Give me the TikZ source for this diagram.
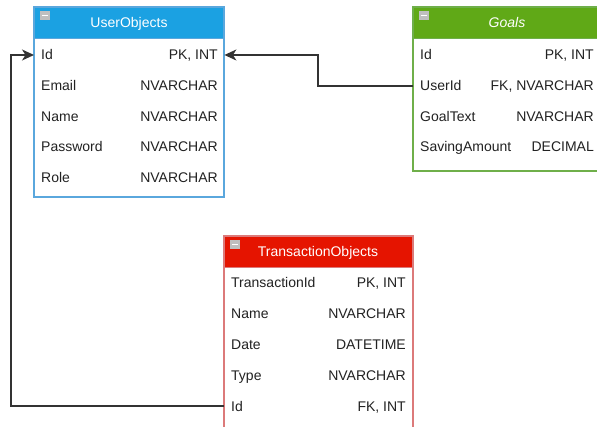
\documentclass[tikz,border=0pt]{standalone}
\usepackage{fontspec}
\setmainfont{Liberation Sans}
\usetikzlibrary{arrows.meta,calc}
\definecolor{ublue}{HTML}{1BA1E2}
\definecolor{ubord}{HTML}{5AA7DD}
\definecolor{ggreen}{HTML}{60A917}
\definecolor{gbord}{HTML}{6FAF4A}
\definecolor{tred}{HTML}{E51400}
\definecolor{tbord}{HTML}{DC7A7A}
\definecolor{txt}{HTML}{222222}
\definecolor{lnc}{HTML}{333333}
\tikzset{
  tbl/.style={draw=#1, line width=1.2pt},
  hdr/.style={fill=#1},
  lab/.style={font=\fontsize{14}{16}\selectfont, text=txt, inner sep=0pt, text height=10pt, text depth=0pt, anchor=west},
  typ/.style={font=\fontsize{14}{16}\selectfont, text=txt, inner sep=0pt, text height=10pt, text depth=0pt, anchor=east},
  ttl/.style={font=\fontsize{14}{16}\selectfont, text=white, inner sep=0pt, text height=10pt, text depth=0pt},
  conn/.style={draw=lnc, line width=1.3pt},
  arr/.style={-{Stealth[length=12pt,width=11pt,inset=3.5pt]}},
}
\newcommand{\minicon}[2]{%
  \fill[gray!50] (#1,#2) rectangle ++(10,9);
  \draw[white, line width=1.5pt] ($(#1,#2)+(2,4.5)$) -- ++(6,0);
}
\begin{document}
\begin{tikzpicture}[x=1pt,y=-1pt]
\useasboundingbox (0,0) rectangle (597,427);
\fill[white] (0,0) rectangle (597,427);
\begin{scope}
\clip (0,0) rectangle (597,427);
% ---------- UserObjects ----------
\fill[white] (34,7) rectangle (224,197);
\fill[hdr=ublue] (34,7) rectangle (224,39);
\draw[tbl=ubord] (34,7) rectangle (224,197);
\draw[ubord, line width=1pt] (34,39) -- (224,39);
\node[draw=none, minimum width=190pt, minimum height=190pt, inner sep=0pt, anchor=north west] (uo) at (34,7) {};
\minicon{40}{11}
\node[ttl] (uot) at (129,23) {UserObjects};
\node[lab] (uid) at (41,55) {Id};
\node[typ] (upk) at (218,55) {PK, INT};
\node[lab] (uem) at (41,86) {Email};
\node[typ] at (218,86) {NVARCHAR};
\node[lab] (unm) at (41,117) {Name};
\node[typ] at (218,117) {NVARCHAR};
\node[lab] (upw) at (41,147) {Password};
\node[typ] at (218,147) {NVARCHAR};
\node[lab] (url) at (41,178) {Role};
\node[typ] at (218,178) {NVARCHAR};
% ---------- Goals ----------
\fill[white] (413,7) rectangle (601,171);
\fill[hdr=ggreen] (413,7) rectangle (601,39);
\draw[tbl=gbord] (413,7) rectangle (601,171);
\draw[gbord, line width=1pt] (413,39) -- (601,39);
\node[draw=none, minimum width=188pt, minimum height=164pt, inner sep=0pt, anchor=north west] (go) at (413,7) {};
\minicon{419}{11}
\node[ttl, font=\fontsize{14}{16}\selectfont\itshape] (got) at (507,23) {Goals};
\node[lab] (gid) at (420,55) {Id};
\node[typ] at (594,55) {PK, INT};
\node[lab] (guid) at (420,86) {UserId};
\node[typ] at (594,86) {FK, NVARCHAR};
\node[lab] (ggt) at (420,117) {GoalText};
\node[typ] at (594,117) {NVARCHAR};
\node[lab] (gsa) at (420,147) {SavingAmount};
\node[typ] at (594,147) {DECIMAL};
% ---------- TransactionObjects ----------
\fill[white] (224,236) rectangle (413,440);
\fill[hdr=tred] (224,236) rectangle (413,268);
\draw[tbl=tbord] (224,236) rectangle (413,440);
\draw[tbord, line width=1pt] (224,268) -- (413,268);
\node[draw=none, minimum width=189pt, minimum height=204pt, inner sep=0pt, anchor=north west] (tr) at (224,236) {};
\minicon{230}{240}
\node[ttl] (trt) at (318,252) {TransactionObjects};
\node[lab] (tid) at (231,283) {TransactionId};
\node[typ] at (406,283) {PK, INT};
\node[lab] (tnm) at (231,314) {Name};
\node[typ] at (406,314) {NVARCHAR};
\node[lab] (tdt) at (231,345) {Date};
\node[typ] at (406,345) {DATETIME};
\node[lab] (tty) at (231,376) {Type};
\node[typ] at (406,376) {NVARCHAR};
\node[lab] (tfk) at (231,406) {Id};
\node[typ] at (406,406) {FK, INT};
% ---------- connectors ----------
\coordinate (gbend) at (318,86);
\coordinate (tbend) at (11,406);
\draw[conn, arr] (guid -| go.west) -- (gbend) |- (upk -| uo.east);
\draw[conn, arr] (tfk -| tr.west) -- (tbend) |- (uid -| uo.west);
\end{scope}
\end{tikzpicture}
\end{document}
